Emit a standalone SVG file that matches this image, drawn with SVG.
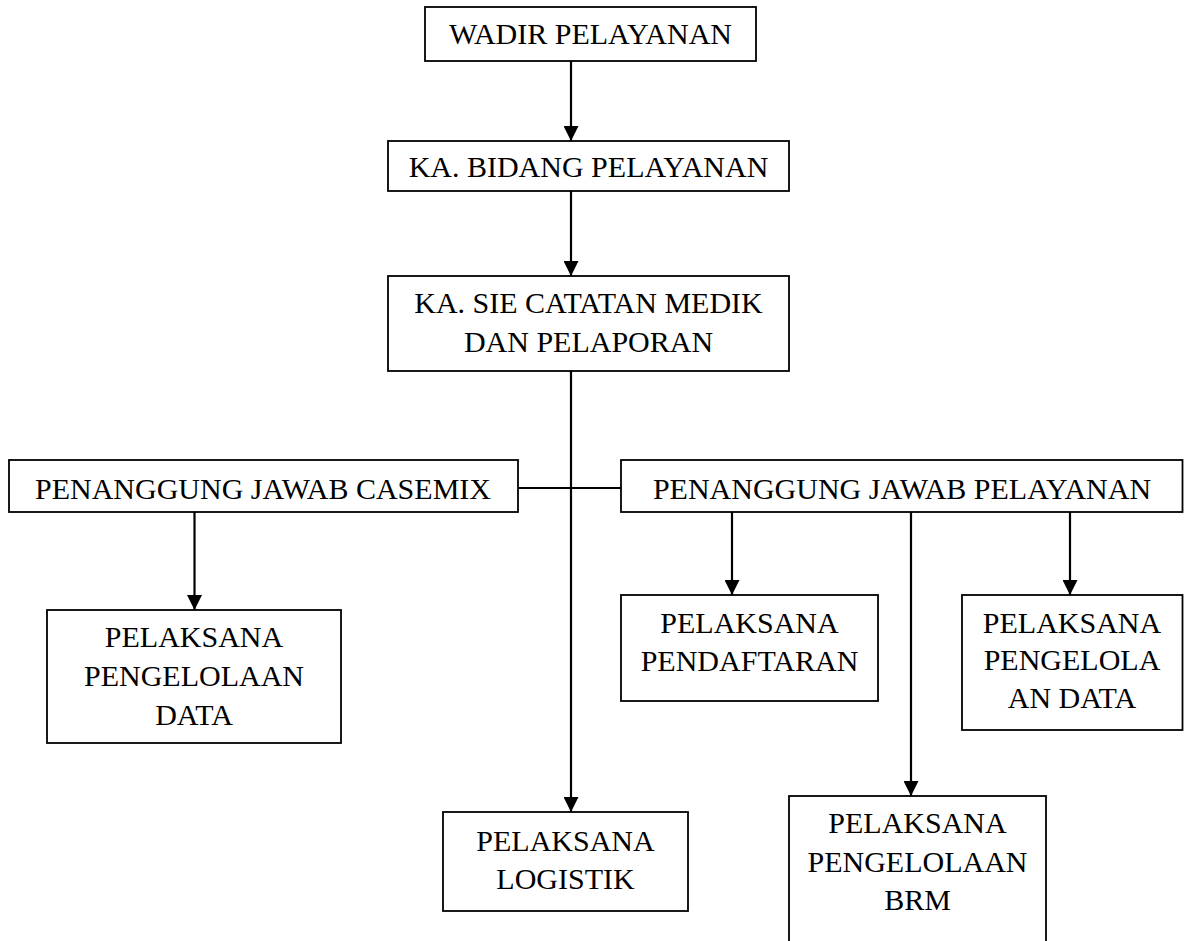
<svg xmlns="http://www.w3.org/2000/svg" width="1184" height="941" viewBox="0 0 1184 941">
  <style>
    .box { fill: #ffffff; stroke: #000000; stroke-width: 1.8; }
    .lbl { font-family: "Liberation Serif", "Times New Roman", serif; font-size: 30px; fill: #000000; text-anchor: middle; }
    .conn { stroke: #000000; stroke-width: 2.2; fill: none; }
    .arrow { marker-end: url(#ah); }
  </style>
  <defs>
    <marker id="ah" viewBox="0 0 15 15" refX="15" refY="7.5" markerWidth="15" markerHeight="15" markerUnits="userSpaceOnUse" orient="auto">
      <path d="M0,0 L15,7.5 L0,15 z" fill="#000000"/>
    </marker>
  </defs>
  <rect width="1184" height="941" fill="#ffffff"/>

  <g id="connectors">
    <line class="conn arrow" x1="571" y1="61" x2="571" y2="141"/>
    <line class="conn arrow" x1="571" y1="191" x2="571" y2="276"/>
    <line class="conn arrow" x1="571" y1="371" x2="571" y2="812"/>
    <line class="conn" x1="518" y1="488" x2="621" y2="488"/>
    <line class="conn arrow" x1="194.5" y1="512" x2="194.5" y2="610"/>
    <line class="conn arrow" x1="732" y1="512" x2="732" y2="595"/>
    <line class="conn arrow" x1="911" y1="512" x2="911" y2="796"/>
    <line class="conn arrow" x1="1070" y1="512" x2="1070" y2="595"/>
  </g>

  <g id="wadir">
    <rect class="box" x="425" y="7" width="331" height="54"/>
    <text class="lbl" x="590.5" y="44">WADIR PELAYANAN</text>
  </g>
  <g id="ka-bidang">
    <rect class="box" x="388" y="141" width="401" height="50"/>
    <text class="lbl" x="588.5" y="177">KA. BIDANG PELAYANAN</text>
  </g>
  <g id="ka-sie">
    <rect class="box" x="388" y="276" width="401" height="95"/>
    <text class="lbl" x="588.5" y="313">KA. SIE CATATAN MEDIK</text>
    <text class="lbl" x="588.5" y="352">DAN PELAPORAN</text>
  </g>
  <g id="pj-casemix">
    <rect class="box" x="9" y="460" width="509" height="52"/>
    <text class="lbl" x="263" y="499">PENANGGUNG JAWAB CASEMIX</text>
  </g>
  <g id="pj-pelayanan">
    <rect class="box" x="621" y="460" width="561.5" height="52"/>
    <text class="lbl" x="902" y="499">PENANGGUNG JAWAB PELAYANAN</text>
  </g>
  <g id="pelaksana-pengelolaan-data">
    <rect class="box" x="47" y="610" width="294" height="133"/>
    <text class="lbl" x="194" y="647">PELAKSANA</text>
    <text class="lbl" x="194" y="686">PENGELOLAAN</text>
    <text class="lbl" x="194" y="725">DATA</text>
  </g>
  <g id="pelaksana-pendaftaran">
    <rect class="box" x="621" y="595" width="257" height="106"/>
    <text class="lbl" x="749.5" y="633">PELAKSANA</text>
    <text class="lbl" x="749.5" y="671">PENDAFTARAN</text>
  </g>
  <g id="pelaksana-pengelolaan-data-2">
    <rect class="box" x="962" y="595" width="220.5" height="135"/>
    <text class="lbl" x="1072" y="633">PELAKSANA</text>
    <text class="lbl" x="1072" y="670">PENGELOLA</text>
    <text class="lbl" x="1072" y="708">AN DATA</text>
  </g>
  <g id="pelaksana-logistik">
    <rect class="box" x="443" y="812" width="245" height="99"/>
    <text class="lbl" x="565.5" y="851">PELAKSANA</text>
    <text class="lbl" x="565.5" y="889">LOGISTIK</text>
  </g>
  <g id="pelaksana-brm">
    <rect class="box" x="789" y="796" width="257" height="160"/>
    <text class="lbl" x="917.5" y="833">PELAKSANA</text>
    <text class="lbl" x="917.5" y="872">PENGELOLAAN</text>
    <text class="lbl" x="917.5" y="910">BRM</text>
  </g>
</svg>
